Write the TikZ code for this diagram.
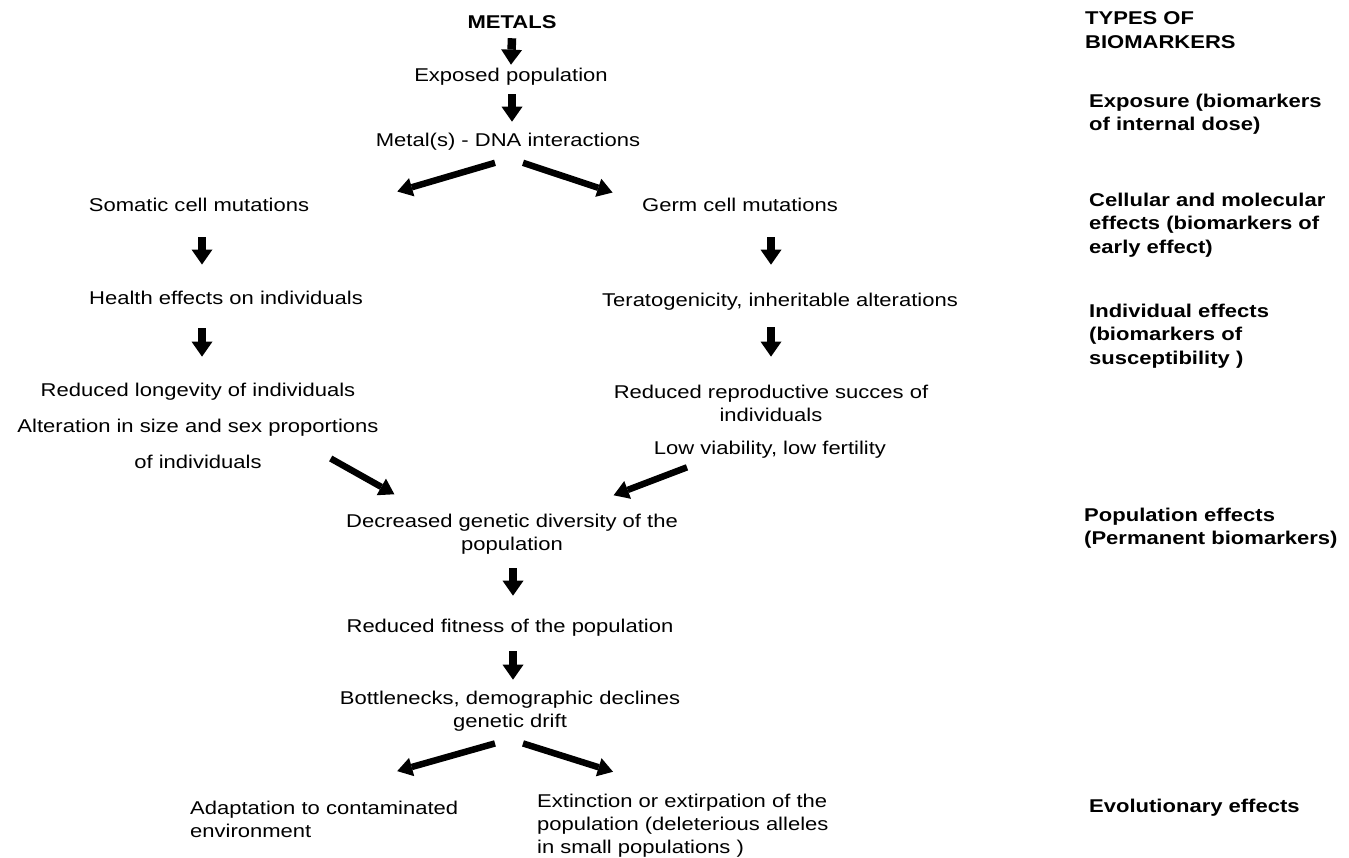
\documentclass[tikz,border=0pt]{standalone}
\usepackage{fontspec}
\setmainfont{Liberation Sans}[FakeStretch=1.19]
\usetikzlibrary{arrows.meta, positioning}

\begin{document}
\begin{tikzpicture}[
                x=1pt, y=-1pt,
                txt/.style={inner sep=0pt, align=center, font=\fontsize{18.5}{23}\selectfont},
                leftxt/.style={inner sep=0pt, align=left, anchor=west, font=\fontsize{18.5}{23}\selectfont},
                hdr/.style={inner sep=0pt, align=left, anchor=west, font=\fontsize{18.5}{23.5}\selectfont\bfseries},
                blk/.style={line width=8.5pt, -{Triangle[length=15pt, width=21pt, line width=0pt]}},
                blkd/.style={line width=6.5pt, -{Triangle[length=15pt, width=19pt, line width=0pt]}}
            ]%
            \useasboundingbox (0,0) rectangle (1349,858);
            %
            % Cadena central
            \node[txt, font=\fontsize{18.5}{23}\selectfont\bfseries] (metals) at (512,22) {METALS};
            \node[txt] (exposed) at (511,77) {Exposed population};
            \node[txt] (dna) at (508,142) {Metal(s) - DNA interactions};
            %
            % Rama somatica
            \node[txt] (somatic) at (199,205) {Somatic cell mutations};
            \node[txt] (health) at (226,298) {Health effects on individuals};
            \node[txt, font=\fontsize{18.5}{36}\selectfont] (longev) at (198,426) {Reduced longevity of individuals\\Alteration in size and sex proportions\\of individuals};
            %
            % Rama germinal
            \node[txt] (germ) at (740,205) {Germ cell mutations};
            \node[txt] (terato) at (780,302) {Teratogenicity, inheritable alterations};
            \node[txt] (reprod) at (771,403.5) {Reduced reproductive succes of\\individuals};
            \node[txt] (lowvia) at (770,450) {Low viability, low fertility};
            %
            % Efectos en la poblacion
            \node[txt] (decr) at (512,534) {Decreased genetic diversity of the\\population};
            \node[txt] (fitness) at (510,628) {Reduced fitness of the population};
            \node[txt] (bottle) at (510,711.4) {Bottlenecks, demographic declines\\genetic drift};
            \node[leftxt] (adapt) at (190,819) {Adaptation to contaminated\\environment};
            \node[leftxt] (extinct) at (537,826) {Extinction or extirpation of the\\population (deleterious alleles\\in small populations )};
            %
            % Tipos de biomarcadores
            \node[hdr] (types) at (1085,30) {TYPES OF\\BIOMARKERS};
            \node[hdr] (exposure) at (1089,114) {Exposure (biomarkers\\of internal dose)};
            \node[hdr] (cellular) at (1089,225) {Cellular and molecular\\effects (biomarkers of\\early effect)};
            \node[hdr] (indiv) at (1089,336) {Individual effects\\(biomarkers of\\susceptibility )};
            \node[hdr] (popeff) at (1084,528) {Population effects\\(Permanent biomarkers)};
            \node[hdr] (evol) at (1089,808) {Evolutionary effects};
            %
            % Flechas verticales
            \draw[blk] ([yshift=-9.5pt]metals.south) -- ([yshift=3.5pt]exposed.north);
            \draw[blk] ([xshift=1pt,yshift=-8.5pt]exposed.south) -- ([xshift=4pt,yshift=11.5pt]dna.north);
            \draw[blk] ([xshift=3pt,yshift=-25.5pt]somatic.south) -- ([xshift=-24pt,yshift=26.5pt]health.north);
            \draw[blk] ([xshift=-24pt,yshift=-23.5pt]health.south) -- ([xshift=4pt,yshift=26.4pt]longev.north);
            \draw[blk] ([xshift=31pt,yshift=-25.5pt]germ.south) -- ([xshift=-9pt,yshift=28.5pt]terato.north);
            \draw[blk] ([xshift=-9pt,yshift=-16.5pt]terato.south) -- ([yshift=28.4pt]reprod.north);
            \draw[blk] ([xshift=1pt,yshift=-13.7pt]decr.south) -- ([xshift=3pt,yshift=23.5pt]fitness.north);
            \draw[blk] ([xshift=3pt,yshift=-14.5pt]fitness.south) -- ([xshift=3pt,yshift=11.4pt]bottle.north);
            %
            % Flechas diagonales
            \draw[blkd] ([xshift=-13pt,yshift=-12pt]dna.south) -- ([xshift=88pt,yshift=6.5pt]somatic.north east);
            \draw[blkd] ([xshift=15pt,yshift=-12pt]dna.south) -- ([xshift=-29.4pt,yshift=5.5pt]germ.north west);
            \draw[blkd] ([xshift=-48pt,yshift=10.5pt]longev.south east) -- ([xshift=48.4pt,yshift=19.4pt]decr.north west);
            \draw[blkd] ([xshift=-83pt,yshift=-8.5pt]lowvia.south) -- ([xshift=-64.4pt,yshift=18.4pt]decr.north east);
            \draw[blkd] ([xshift=-15pt,yshift=-11.7pt]bottle.south) -- ([xshift=73pt,yshift=29.4pt]adapt.north);
            \draw[blkd] ([xshift=13pt,yshift=-11.7pt]bottle.south) -- ([xshift=76pt,yshift=22.4pt]extinct.north west);
\end{tikzpicture}
\end{document}
